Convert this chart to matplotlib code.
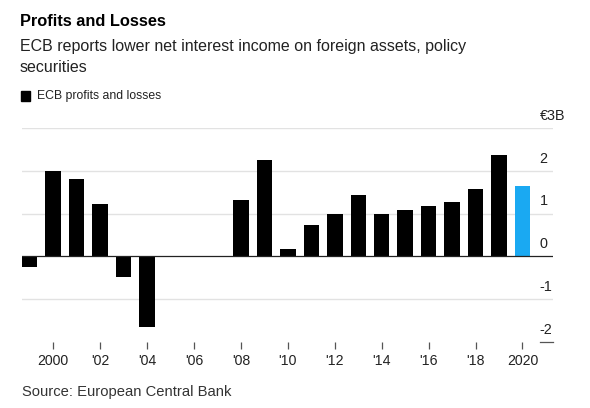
import numpy as np
import matplotlib.pyplot as plt

plt.rcParams['font.family'] = ['Liberation Sans', 'DejaVu Sans']

# ECB profits and losses, billions of euros
years = list(range(1999, 2021))
profits = [-0.25, 1.99, 1.82, 1.22, -0.48, -1.64, 0.0, 0.0, 0.0, 1.32, 2.25,
           0.17, 0.73, 1.0, 1.44, 0.99, 1.08, 1.19, 1.28, 1.58, 2.37, 1.64]
tick_years = list(range(2000, 2021, 2))
tick_labels = ['2000', "'02", "'04", "'06", "'08", "'10", "'12", "'14", "'16", "'18", '2020']
y_ticks = [3, 2, 1, 0, -1, -2]
y_labels = ['€3B', '2', '1', '0', '-1', '-2']

fig = plt.figure(figsize=(5.9, 4.08), dpi=100)
ax = fig.add_axes([22 / 590, 0.162, 531 / 590, 0.524])

colors = ['black'] * (len(years) - 1) + ['#1aa9f2']
ax.bar(years, profits, width=0.66, color=colors, zorder=3)

ax.set_xlim(1998.67, 2021.3)
ax.set_ylim(-2, 3)

# gridlines
for v in [3, 2, 1, -1]:
    ax.axhline(v, color='#e2e2e2', lw=1, zorder=1)
ax.axhline(0, color='#222222', lw=0.9, zorder=4)
ax.axhline(-2, xmin=0.975, xmax=1.0, color='#555555', lw=0.9, clip_on=False)

# y labels on the right, sitting above their lines
for v, lab in zip(y_ticks, y_labels):
    ax.text(0.975, v + 0.12, lab, transform=ax.get_yaxis_transform(),
            ha='left', va='bottom', fontsize=10.4, color='#222222')

ax.set_yticks([])
ax.set_xticks(tick_years)
ax.set_xticklabels(tick_labels, fontsize=10.2, color='#222222')
ax.tick_params(axis='x', length=5, width=0.9, color='#555555', pad=4, direction='out')
for s in ax.spines.values():
    s.set_visible(False)

# header
fig.text(20 / 590, 1 - 22 / 408, 'Profits and Losses', fontsize=11.8, fontweight='bold',
         va='center', ha='left')
fig.text(20 / 590, 1 - 46 / 408, 'ECB reports lower net interest income on foreign assets, policy',
         fontsize=11.5, va='center', ha='left', color='#222222')
fig.text(20 / 590, 1 - 67 / 408, 'securities',
         fontsize=11.5, va='center', ha='left', color='#222222')
fig.patches.append(plt.Rectangle((21 / 590, 1 - 101 / 408), 9 / 590, 10 / 408,
                                 transform=fig.transFigure, color='black'))
fig.text(37 / 590, 1 - 96 / 408, 'ECB profits and losses', fontsize=8.8,
         va='center', ha='left', color='#222222')

fig.text(22 / 590, 1 - 392 / 408, 'Source: European Central Bank', fontsize=10.6,
         va='center', ha='left', color='#333333')

plt.savefig('out.png', dpi=100)
